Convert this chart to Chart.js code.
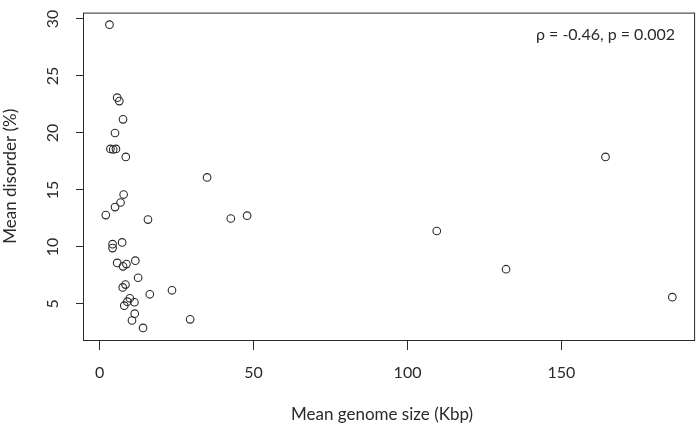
<!DOCTYPE html>
<html lang="en">
<head>
    <meta charset="UTF-8">
    <title>Mean disorder vs genome size</title>
    <style>
        body {
            margin: 0;
            background: #ffffff;
        }
        #chart {
            display: block;
        }
    </style>
</head>
<body>
    <canvas id="chart" width="700" height="426"></canvas>

    <script src="https://cdn.jsdelivr.net/npm/chart.js"></script>
    <script>
        // Mean genome size (Kbp) and mean disorder (%) per group
        const genomeSize = [3.2, 5.7, 6.4, 7.6, 5.0, 3.5, 4.4, 5.3, 8.5, 34.9,
                            7.8, 6.8, 5.0, 2.0, 15.7, 42.6, 47.9, 4.2, 7.3, 4.2,
                            5.7, 8.7, 7.6, 11.6, 12.5, 8.4, 7.5, 23.5, 16.3, 9.8,
                            9.0, 11.3, 8.0, 11.4, 10.5, 29.4, 14.1, 109.5, 132.0, 164.3,
                            186.0];
        const disorder = [29.5, 23.1, 22.8, 21.2, 20.0, 18.6, 18.55, 18.6, 17.9, 16.1,
                          14.6, 13.9, 13.5, 12.8, 12.4, 12.5, 12.75, 10.25, 10.4, 9.9,
                          8.6, 8.5, 8.3, 8.8, 7.3, 6.7, 6.45, 6.2, 5.85, 5.5,
                          5.2, 5.15, 4.85, 4.15, 3.55, 3.65, 2.9, 11.4, 8.05, 17.9,
                          5.6];
        const xTicks = [0, 50, 100, 150];
        const yTicks = [5, 10, 15, 20, 25, 30];
        const xTitle = 'Mean genome size (Kbp)';
        const statLabel = 'ρ = -0.46, p = 0.002';

        const FONT = 'Lato, "Open Sans", sans-serif';
        const INK = '#2a2a2a';

        const points = genomeSize.map((x, i) => ({ x: x, y: disorder[i] }));

        // frame, rotated y tick labels, x title and the stats text
        const extras = {
            id: 'extras',
            afterDraw(chart) {
                const ctx = chart.ctx;
                const area = chart.chartArea;
                const yScale = chart.scales.y;
                ctx.save();
                ctx.strokeStyle = INK;
                ctx.lineWidth = 1;
                ctx.strokeRect(area.left + 0.5, area.top + 0.5, area.right - area.left - 1, area.bottom - area.top);

                ctx.fillStyle = INK;
                ctx.font = '16px ' + FONT;
                ctx.textAlign = 'center';
                ctx.textBaseline = 'middle';
                yTicks.forEach(v => {
                    const py = yScale.getPixelForValue(v);
                    ctx.save();
                    ctx.translate(53, py);
                    ctx.rotate(-Math.PI / 2);
                    ctx.fillText(String(v), 0, 0);
                    ctx.restore();
                });

                ctx.font = '17px ' + FONT;
                ctx.fillText(xTitle, 382, 415);

                ctx.font = '16px ' + FONT;
                ctx.textAlign = 'right';
                ctx.fillText(statLabel, 675, 35);
                ctx.restore();
            }
        };

        new Chart(document.getElementById('chart'), {
            type: 'scatter',
            data: {
                datasets: [{
                    data: points,
                    pointStyle: 'circle',
                    pointRadius: 3.8,
                    pointHoverRadius: 3.8,
                    pointBorderWidth: 1.1,
                    pointBorderColor: INK,
                    pointBackgroundColor: 'rgba(0,0,0,0)'
                }]
            },
            options: {
                responsive: false,
                animation: false,
                events: [],
                layout: { padding: { left: 0, right: 2, top: 2, bottom: 0 } },
                plugins: {
                    legend: { display: false },
                    tooltip: { enabled: false }
                },
                scales: {
                    x: {
                        type: 'linear',
                        min: -5.4,
                        max: 193.4,
                        afterFit(scale) { scale.height = 86; },
                        afterBuildTicks(scale) { scale.ticks = xTicks.map(v => ({ value: v })); },
                        border: { display: false },
                        grid: {
                            drawOnChartArea: false,
                            drawTicks: true,
                            tickLength: 10,
                            color: INK
                        },
                        ticks: {
                            includeBounds: false,
                            padding: 13,
                            color: INK,
                            font: { family: FONT, size: 16 }
                        }
                    },
                    y: {
                        type: 'linear',
                        min: 1.84,
                        max: 30.56,
                        afterFit(scale) { scale.width = 83; },
                        afterBuildTicks(scale) { scale.ticks = yTicks.map(v => ({ value: v })); },
                        border: { display: false },
                        grid: {
                            drawOnChartArea: false,
                            drawTicks: true,
                            tickLength: 7,
                            color: INK
                        },
                        ticks: {
                            includeBounds: false,
                            color: 'rgba(0,0,0,0)',
                            font: { family: FONT, size: 16 }
                        },
                        title: {
                            display: true,
                            text: 'Mean disorder (%)',
                            color: INK,
                            padding: { top: 0, bottom: 0 },
                            font: { family: FONT, size: 17 }
                        }
                    }
                }
            },
            plugins: [extras]
        });
    </script>
</body>
</html>
